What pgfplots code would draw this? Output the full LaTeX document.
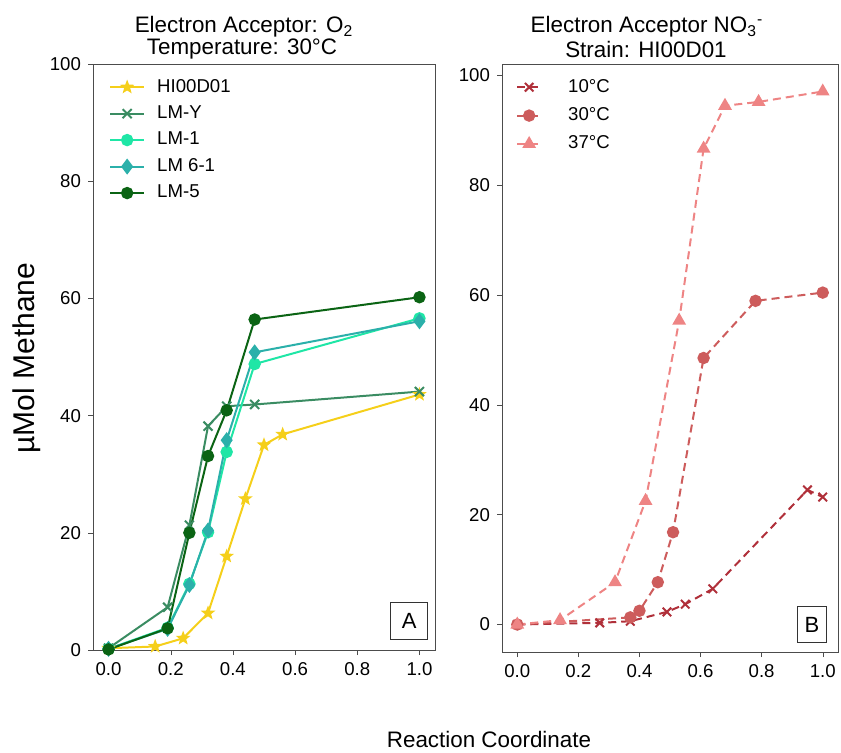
\documentclass[border=0pt]{standalone}
\usepackage{fontspec}
\setmainfont{Liberation Sans}
\usepackage{pgfplots}
\pgfplotsset{compat=1.18}
\usetikzlibrary{plotmarks}

\definecolor{cgold}{HTML}{F5CF1A}
\definecolor{cseagreen}{HTML}{3A8C62}
\definecolor{cspring}{HTML}{1FE6A6}
\definecolor{clightsea}{HTML}{2BB0AA}
\definecolor{cdarkgreen}{HTML}{0B6414}
\definecolor{cfire}{HTML}{B0303A}
\definecolor{cindian}{HTML}{CD5C5C}
\definecolor{ccoral}{HTML}{EE8484}

% filled five point star
\pgfdeclareplotmark{fstar}{%
  \pgfpathmoveto{\pgfpointpolar{90}{\pgfplotmarksize}}%
  \pgfpathlineto{\pgfpointpolar{126}{0.42\pgfplotmarksize}}%
  \pgfpathlineto{\pgfpointpolar{162}{\pgfplotmarksize}}%
  \pgfpathlineto{\pgfpointpolar{198}{0.42\pgfplotmarksize}}%
  \pgfpathlineto{\pgfpointpolar{234}{\pgfplotmarksize}}%
  \pgfpathlineto{\pgfpointpolar{270}{0.42\pgfplotmarksize}}%
  \pgfpathlineto{\pgfpointpolar{306}{\pgfplotmarksize}}%
  \pgfpathlineto{\pgfpointpolar{342}{0.42\pgfplotmarksize}}%
  \pgfpathlineto{\pgfpointpolar{18}{\pgfplotmarksize}}%
  \pgfpathlineto{\pgfpointpolar{54}{0.42\pgfplotmarksize}}%
  \pgfpathclose
  \pgfusepathqfillstroke}

\pgfplotsset{
  panel/.style={
    scale only axis, anchor=south west,
    axis line style={black!70}, tick style={black!70},
    tick align=outside, major tick length=2.5pt, tick pos=left,
    ticklabel style={font=\fontsize{9.3}{11}\selectfont},
    /pgf/number format/assume math mode=true,
    xmin=-0.05, xmax=1.05,
    xtick={0,0.2,0.4,0.6,0.8,1.0},
    xticklabels={0.0,0.2,0.4,0.6,0.8,1.0},
    ytick={0,20,40,60,80,100},
    legend cell align=left,
    legend style={draw=none, fill=white, font=\fontsize{9.3}{11}\selectfont,
      row sep=1.3pt, inner sep=1pt},
  },
  ser/.style={line width=1pt, mark size=2.6pt},
}

\begin{document}
\begin{tikzpicture}[x=1pt,y=1pt]
\useasboundingbox (0,0) rectangle (420.5,376);

% panel A
\begin{axis}[panel, at={(46.5pt,51pt)}, width=171pt, height=293pt,
  ymin=0, ymax=100,
  legend style={at={(rel axis cs:0.04,0.985)}, anchor=north west, column sep=4pt}]
\addplot[ser, cgold, mark=fstar, mark size=2.4pt] coordinates {
  (0,0.3) (0.15,0.6) (0.24,2.0) (0.32,6.3) (0.38,16.0) (0.44,25.8) (0.50,35.0) (0.56,36.8) (1.0,43.6)};
\addlegendentry{HI00D01}
\addplot[ser, cseagreen, mark=x, mark size=3.2pt] coordinates {
  (0,0.3) (0.19,7.3) (0.26,21.3) (0.32,38.2) (0.38,41.6) (0.47,41.9) (1.0,44.1)};
\addlegendentry{LM-Y}
\addplot[ser, cspring, mark=*] coordinates {
  (0,0.2) (0.19,3.8) (0.26,11.3) (0.32,20.1) (0.38,33.8) (0.47,48.8) (1.0,56.6)};
\addlegendentry{LM-1}
\addplot[ser, clightsea, mark=diamond*, mark size=3.2pt] coordinates {
  (0,0.2) (0.19,3.6) (0.26,11.1) (0.32,20.4) (0.38,35.8) (0.47,50.8) (1.0,56.1)};
\addlegendentry{LM 6-1}
\addplot[ser, cdarkgreen, mark=*] coordinates {
  (0,0.1) (0.19,3.7) (0.26,20.0) (0.32,33.1) (0.38,40.9) (0.47,56.4) (1.0,60.2)};
\addlegendentry{LM-5}
\node[draw=black!80, fill=white, minimum width=18.5pt, minimum height=18.5pt, inner sep=0pt,
  anchor=south east, font=\fontsize{11}{12}\selectfont] at (rel axis cs:0.98,0.017) {A};
\end{axis}

% panel B
\begin{axis}[panel, at={(251pt,50pt)}, width=168pt, height=294pt,
  ymin=-5, ymax=102,
  legend style={at={(rel axis cs:0.035,0.985)}, anchor=north west, column sep=11pt,
    row sep=2.2pt},
  legend image code/.code={\draw[mark repeat=2, mark phase=2]
    plot coordinates {(0pt,0pt) (6pt,0pt) (12pt,0pt)};},
  dashes/.style={dash pattern=on 4pt off 2.5pt}]
\addplot[ser, dashes, cfire, mark=x, mark size=3pt, mark options={solid}] coordinates {
  (0,0) (0.27,0.3) (0.37,0.6) (0.49,2.3) (0.55,3.7) (0.64,6.5) (0.95,24.5) (1.0,23.2)};
\addlegendentry{10°C}
\addplot[ser, dashes, cindian, mark=*, mark options={solid}] coordinates {
  (0,0) (0.37,1.3) (0.40,2.5) (0.46,7.7) (0.51,16.8) (0.61,48.5) (0.78,58.9) (1.0,60.4)};
\addlegendentry{30°C}
\addplot[ser, dashes, ccoral, mark=triangle*, mark size=3pt, mark options={solid}] coordinates {
  (0,0) (0.14,0.8) (0.32,7.7) (0.42,22.5) (0.53,55.3) (0.61,86.6) (0.68,94.4) (0.79,95.1) (1.0,97.0)};
\addlegendentry{37°C}
\node[draw=black!80, fill=white, minimum width=14.5pt, minimum height=18pt, inner sep=0pt,
  anchor=south east, font=\fontsize{11}{12}\selectfont] at (rel axis cs:0.967,0.015) {B};
\end{axis}

% titles and shared labels
\node[font=\fontsize{11.2}{12}\selectfont] at (122,362.5) {Electron Acceptor: O\textsubscript{2}};
\node[font=\fontsize{11.2}{12}\selectfont] at (121,351.5) {Temperature: 30°C};
\node[font=\fontsize{11.2}{12}\selectfont] at (323.5,362.5) {Electron Acceptor NO\textsubscript{3}\textsuperscript{-}};
\node[font=\fontsize{11.2}{12}\selectfont] at (323,351.5) {Strain: HI00D01};
\node[font=\fontsize{15}{16}\selectfont, rotate=90] at (13.5,197) {µMol Methane};
\node[font=\fontsize{11.2}{12}\selectfont] at (244.5,6.5) {Reaction Coordinate};
\end{tikzpicture}
\end{document}
